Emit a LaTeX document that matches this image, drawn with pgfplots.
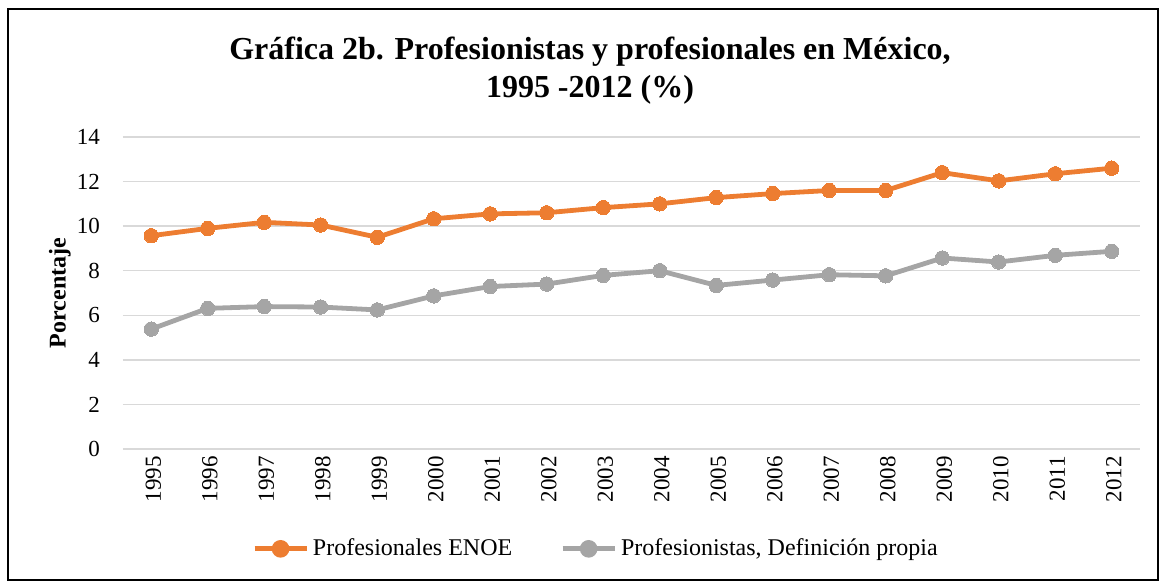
\documentclass[border=0pt]{standalone}
\usepackage{pgfplots}
\pgfplotsset{compat=1.18}
\usepackage{fontspec}
\setmainfont{Liberation Serif}
\definecolor{cOrange}{HTML}{ED7D31}
\definecolor{cGray}{HTML}{A5A5A5}
\definecolor{cGrid}{HTML}{D9D9D9}
\begin{document}
\begin{tikzpicture}[x=1pt,y=1pt]
\begin{axis}[
  at={(0pt,0pt)}, anchor=south west,
  scale only axis,
  width=508.5pt, height=156pt,
  xmin=-0.5, xmax=17.5, ymin=0, ymax=14,
  xtick={0,...,17},
  xticklabels={1995,1996,1997,1998,1999,2000,2001,2002,2003,2004,2005,2006,2007,2008,2009,2010,2011,2012},
  ytick={0,2,...,14},
  axis x line*=bottom, axis y line*=left,
  x axis line style={draw=cGrid, line width=0.75pt},
  y axis line style={draw=none},
  major tick length=0pt,
  ymajorgrids, grid style={draw=cGrid, line width=0.75pt},
  /pgf/number format/assume math mode=true,
  tick label style={font=\fontsize{11.5}{13}\selectfont},
  xticklabel style={rotate=90, anchor=east, xshift=0pt, yshift=-1pt},
  yticklabel style={xshift=-8pt},
  ylabel={\textbf{Porcentaje}},
  ylabel style={font=\fontsize{12}{14}\selectfont, at={(rel axis cs:-0.062,0.5)}, anchor=center, rotate=0},
  legend columns=2,
  legend style={draw=none, fill=none, at={(rel axis cs:0.466,-0.32)}, anchor=center,
    font=\fontsize{12}{14}\selectfont, /tikz/every even column/.append style={column sep=22pt}},
  legend image code/.code={
    \draw[#1, mark=none] (0pt,0pt) -- (26pt,0pt);
    \fill[#1] (13pt,0pt) circle (3.2pt);
  },
]
\addplot[color=cOrange, line width=2.4pt, mark=*, mark size=3.6pt, mark options={draw=cOrange, fill=cOrange, line width=0pt}] coordinates {
(0,9.57) (1,9.9) (2,10.17) (3,10.05) (4,9.5) (5,10.33) (6,10.55) (7,10.6) (8,10.83) (9,11.0) (10,11.28) (11,11.46) (12,11.6) (13,11.6) (14,12.4) (15,12.03) (16,12.35) (17,12.6)
};
\addlegendentry{Profesionales ENOE}
\addplot[color=cGray, line width=2.4pt, mark=*, mark size=3.6pt, mark options={draw=cGray, fill=cGray, line width=0pt}] coordinates {
(0,5.38) (1,6.31) (2,6.39) (3,6.37) (4,6.24) (5,6.87) (6,7.29) (7,7.4) (8,7.79) (9,8.0) (10,7.34) (11,7.58) (12,7.82) (13,7.77) (14,8.57) (15,8.39) (16,8.69) (17,8.87)
};
\addlegendentry{Profesionistas, Definición propia}
\end{axis}
\node[align=center, font=\bfseries\fontsize{16}{19}\selectfont] at (233.5pt,189pt) {Gráfica 2b. Profesionistas y profesionales en México,\\1995 -2012 (\%)};
\pgfresetboundingbox
\path (-61.5pt,-66pt) rectangle (519pt,224.5pt);
\draw[black, line width=1pt] (-57.5pt,-65.5pt) rectangle (517.5pt,220pt);
\end{tikzpicture}
\end{document}
